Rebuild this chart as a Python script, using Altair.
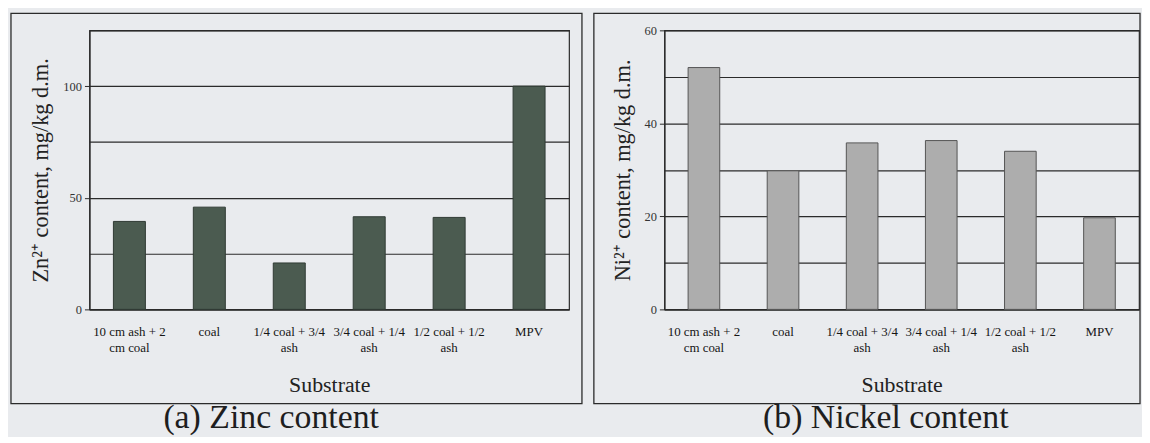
import json
import altair as alt
import pandas as pd

# ---------------- data ----------------
categories = [
    "10 cm ash + 2\ncm coal",
    "coal",
    "1/4 coal + 3/4\nash",
    "3/4 coal + 1/4\nash",
    "1/2 coal + 1/2\nash",
    "MPV",
]
zinc = [39.4, 45.8, 20.8, 41.5, 41.2, 100.0]
nickel = [52.0, 29.8, 35.8, 36.3, 34.0, 19.7]

zinc_grid = [0, 25, 50, 75, 100, 125]
zinc_labels = [0, 50, 100]
nickel_grid = [0, 10, 20, 30, 40, 50, 60]
nickel_labels = [0, 20, 40, 60]

FONT = "Liberation Serif"
INK = "#2b2b2b"
BG = "#e9ebee"
H = 281


def panel(values, color, stroke, domain_max, grid, labels, ytitle, caption,
          width, frame_l, frame_r, cap_x):
    df = pd.DataFrame({"cat": categories, "val": values})
    lab = json.dumps(labels)
    bars = alt.Chart(df).mark_bar(
        color=color, stroke=stroke, strokeWidth=1
    ).encode(
        x=alt.X(
            "cat:N", sort=categories,
            scale=alt.Scale(paddingInner=0.6, paddingOuter=0.3),
            axis=alt.Axis(
                title="Substrate", labelAngle=0,
                labelExpr="split(datum.label, '\\n')",
                ticks=False, labelPadding=16, labelLineHeight=16,
                labelFontSize=13, labelLimit=300, labelColor="#151515",
                titleFontSize=22, titleFontWeight="normal", titlePadding=21,
                titleColor="#222",
                domainColor=INK, domainWidth=1.3,
            ),
        ),
        y=alt.Y(
            "val:Q",
            scale=alt.Scale(domain=[0, domain_max], nice=False),
            axis=alt.Axis(
                values=grid,
                labelExpr=f"indexof({lab}, datum.value) >= 0 ? datum.label : ''",
                tickOpacity={"condition": {"test": f"indexof({lab}, datum.value) >= 0", "value": 1}, "value": 0},
                tickSize=5, tickColor=INK, labelPadding=3,
                labelFontSize=12.5, labelColor="#333",
                grid=True, gridColor=INK, gridWidth=1.2,
                domainColor=INK, domainWidth=1.3,
                title=ytitle, titleFontSize=22.5, titleFontWeight="normal",
                titlePadding=10, titleColor="#222",
            ),
        ),
    ).properties(width=width, height=H)

    one = alt.Data(values=[{"k": 1}])
    frame = alt.Chart(one).mark_rect(
        fillOpacity=0, stroke=INK, strokeWidth=1.3
    ).encode(
        x=alt.value(frame_l), x2=alt.value(frame_r),
        y=alt.value(-17), y2=alt.value(H + 95),
    )
    cap = alt.Chart(one).mark_text(
        text=caption, font=FONT, fontSize=34, color="#1e1e1e",
        align="center", baseline="alphabetic",
    ).encode(x=alt.value(cap_x), y=alt.value(400))
    return alt.layer(bars, frame, cap)


left = panel(zinc, "#4b5b50", "#2f3a33", 125, zinc_grid, zinc_labels,
             "Zn²⁺ content, mg/kg d.m.", "(a) Zinc content",
             483, -79, 496, 183)
right = panel(nickel, "#adadad", "#555555", 60, nickel_grid, nickel_labels,
              "Ni²⁺ content, mg/kg d.m.", "(b) Nickel content",
              478, -71, 479, 223)

chart = alt.hconcat(left, right, spacing=8).properties(
    padding={"left": 1, "top": 2, "right": 0, "bottom": 0},
    background=BG,
).configure_view(
    stroke=INK, strokeWidth=1.2, fill=None
).configure_axis(
    labelFont=FONT, titleFont=FONT
).configure_text(font=FONT)

chart.save("out.html", embed_options={"renderer": "svg", "actions": False})
